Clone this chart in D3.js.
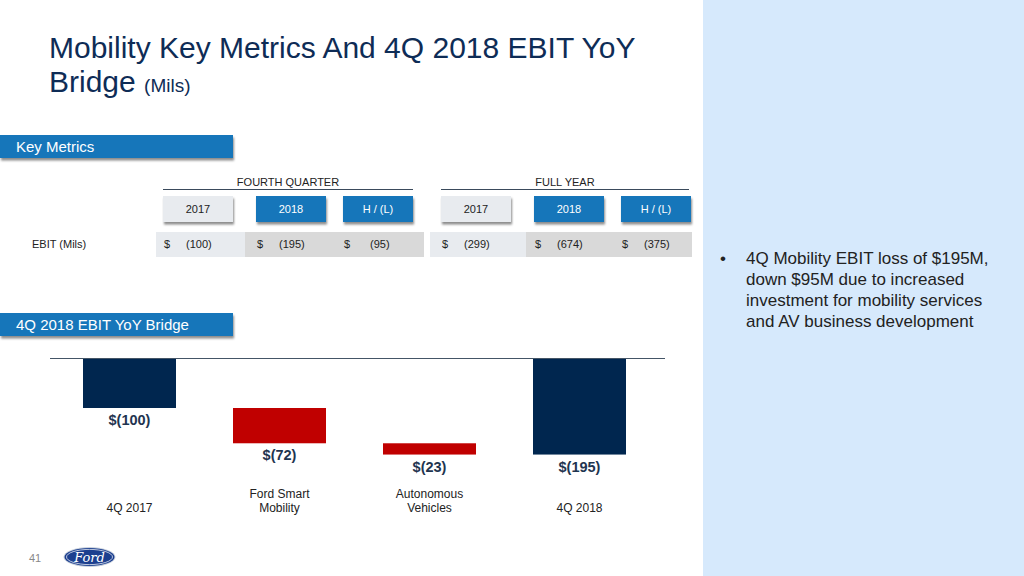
<!DOCTYPE html>
<html>
<head>
<meta charset="utf-8">
<script src="https://cdn.jsdelivr.net/npm/d3@7"></script>
<style>
  body { margin: 0; background: #fff; }
  svg { display: block; font-family: "Liberation Sans", Arial, sans-serif; }
</style>
</head>
<body>
<svg id="slide" width="1024" height="576"></svg>
<script>
// ---- data ----
const groups = ["FOURTH QUARTER", "FULL YEAR"];
const columns = ["2017", "2018", "H / (L)"];
const rowLabel = "EBIT (Mils)";
const quarterValues = ["(100)", "(195)", "(95)"];
const fullYearValues = ["(299)", "(674)", "(375)"];

const bridgeCategories = ["4Q 2017", "Ford Smart|Mobility", "Autonomous|Vehicles", "4Q 2018"];
const bridgeValues = [-100, -72, -23, -195];
const bridgeTypes = ["total", "delta", "delta", "total"];
const bridgeLabels = ["$(100)", "$(72)", "$(23)", "$(195)"];

const bulletLines = [
  "4Q Mobility EBIT loss of $195M,",
  "down $95M due to increased",
  "investment for mobility services",
  "and AV business development"
];

const navy = "#00264f";
const red = "#c00000";
const blue = "#1576ba";

let svg = d3.select("#slide");

let defs = svg.append("defs");
let shadow = defs.append("filter").attr("id", "shadow")
    .attr("x", "-10%").attr("y", "-20%").attr("width", "120%").attr("height", "160%");
shadow.append("feDropShadow").attr("dx", 1).attr("dy", 2.5).attr("stdDeviation", 1.3)
    .attr("flood-color", "#000").attr("flood-opacity", 0.45);

// right panel
svg.append("rect").attr("x", 703).attr("y", 0).attr("width", 321).attr("height", 576).attr("fill", "#d6e9fc");

// title
let title = svg.append("text").attr("fill", "#0e2c56").attr("font-size", 30);
title.append("tspan").attr("x", 49).attr("y", 58).text("Mobility Key Metrics And 4Q 2018 EBIT YoY");
title.append("tspan").attr("x", 49).attr("y", 92).text("Bridge ");
title.append("tspan").attr("font-size", 19).text("(Mils)");

// section headers
function sectionHeader(y, label) {
    svg.append("rect").attr("x", 0).attr("y", y).attr("width", 233).attr("height", 23)
       .attr("fill", blue).attr("filter", "url(#shadow)");
    svg.append("text").attr("x", 16).attr("y", y + 17).attr("fill", "#fff")
       .attr("font-size", 15).text(label);
}
sectionHeader(135, "Key Metrics");
sectionHeader(313, "4Q 2018 EBIT YoY Bridge");

// ---- key metrics table ----
const groupX = [163, 441];
const groupW = [250, 248];
const cellOffsets = [[0, 93, 180], [0, 93, 180]];
const cellW = 70;
const rowCells = [[156, 245, 424], [430, 526, 692]];
const allValues = [quarterValues, fullYearValues];

groups.forEach((g, gi) => {
    let gx = groupX[gi];
    svg.append("text").attr("x", gx + groupW[gi] / 2).attr("y", 186).attr("text-anchor", "middle")
       .attr("font-size", 11).attr("fill", "#222").text(g);
    svg.append("line").attr("x1", gx).attr("x2", gx + groupW[gi]).attr("y1", 189.5).attr("y2", 189.5)
       .attr("stroke", "#3a4a5c").attr("stroke-width", 1);

    columns.forEach((c, ci) => {
        let cx = gx + cellOffsets[gi][ci];
        let first = ci === 0;
        svg.append("rect").attr("x", cx).attr("y", 196).attr("width", cellW).attr("height", 26)
           .attr("fill", first ? "#e8ebef" : blue).attr("filter", "url(#shadow)");
        svg.append("text").attr("x", cx + cellW / 2).attr("y", 213).attr("text-anchor", "middle")
           .attr("font-size", 11).attr("fill", first ? "#222" : "#fff").text(c);
    });

    let rc = rowCells[gi];
    svg.append("rect").attr("x", rc[0]).attr("y", 232).attr("width", rc[1] - rc[0]).attr("height", 25).attr("fill", "#e8ebef");
    svg.append("rect").attr("x", rc[1]).attr("y", 232).attr("width", rc[2] - rc[1]).attr("height", 25).attr("fill", "#d9d9d9");

    allValues[gi].forEach((v, ci) => {
        let cx = gx + cellOffsets[gi][ci];
        svg.append("text").attr("x", cx + 1).attr("y", 248).attr("font-size", 11).attr("fill", "#222").text("$");
        svg.append("text").attr("x", cx + (v.length > 4 ? 23 : 27)).attr("y", 248)
           .attr("font-size", 11).attr("fill", "#222").text(v);
    });
});
svg.append("text").attr("x", 32).attr("y", 248).attr("font-size", 11).attr("fill", "#222").text(rowLabel);

// ---- bridge (waterfall) ----
let running = 0;
let bars = bridgeValues.map((v, i) => {
    let start, end;
    if (bridgeTypes[i] === "total") { start = 0; end = v; running = v; }
    else { start = running; end = running + v; running = end; }
    return { cat: bridgeCategories[i], start: start, end: end, type: bridgeTypes[i], label: bridgeLabels[i] };
});

let x = d3.scaleBand().domain(bridgeCategories).range([54.5, 654.5]).paddingInner(0.38).paddingOuter(0.19);
let y = d3.scaleLinear().domain([0, -200]).range([359, 457]);

let chart = svg.append("g");
chart.selectAll("rect.bar").data(bars).enter().append("rect")
    .attr("class", "bar")
    .attr("x", d => x(d.cat))
    .attr("width", x.bandwidth())
    .attr("y", d => y(Math.max(d.start, d.end)))
    .attr("height", d => Math.abs(y(d.end) - y(d.start)))
    .attr("fill", d => d.type === "total" ? navy : red);

chart.append("line").attr("x1", 50).attr("x2", 665).attr("y1", 358.5).attr("y2", 358.5)
    .attr("stroke", "#445566").attr("stroke-width", 1.2);

chart.selectAll("text.val").data(bars).enter().append("text")
    .attr("class", "val")
    .attr("x", d => x(d.cat) + x.bandwidth() / 2)
    .attr("y", d => y(Math.min(d.start, d.end)) + 17)
    .attr("text-anchor", "middle")
    .attr("font-size", 14.5).attr("font-weight", "bold").attr("fill", "#1f3550")
    .text(d => d.label);

bars.forEach(d => {
    let lines = d.cat.split("|");
    let t = chart.append("text").attr("text-anchor", "middle").attr("font-size", 12).attr("fill", "#222");
    lines.forEach((l, li) => {
        t.append("tspan").attr("x", x(d.cat) + x.bandwidth() / 2)
         .attr("y", 512 - (lines.length - 1 - li) * 14).text(l);
    });
});

// ---- bullet text ----
svg.append("text").attr("x", 720).attr("y", 264).attr("font-size", 17).attr("fill", "#222").text("•");
bulletLines.forEach((l, i) => {
    svg.append("text").attr("x", 746).attr("y", 264 + i * 21).attr("font-size", 17).attr("fill", "#222").text(l);
});

// ---- footer ----
svg.append("text").attr("x", 29).attr("y", 562).attr("font-size", 11).attr("fill", "#888").text("41");
let logo = svg.append("g").attr("transform", "translate(89.5,557)");
logo.append("ellipse").attr("rx", 26).attr("ry", 10).attr("fill", "#c8d0dc");
logo.append("ellipse").attr("rx", 25).attr("ry", 9).attr("fill", "#1c3f8f");
logo.append("ellipse").attr("rx", 23).attr("ry", 7.6).attr("fill", "none").attr("stroke", "#fff").attr("stroke-width", 0.7);
logo.append("text").attr("y", 4.5).attr("text-anchor", "middle").attr("font-size", 13)
    .attr("font-style", "italic").attr("font-family", "'DejaVu Serif', serif").attr("fill", "#fff").text("Ford");
</script>
</body>
</html>
